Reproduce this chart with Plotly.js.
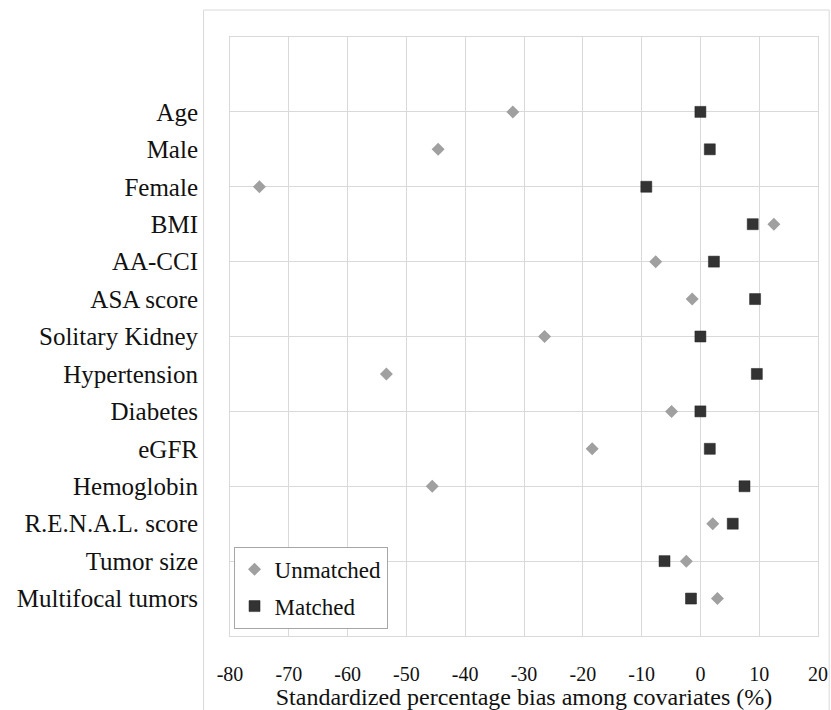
<!DOCTYPE html>
<html>
<head>
<meta charset="utf-8">
<script src="https://cdn.plot.ly/plotly-3.0.1.min.js"></script>
<style>html,body{margin:0;padding:0;background:#fff;}#chart{width:831px;height:710px;}</style>
</head>
<body>
<div id="chart"></div>
<script>
var categories = ["Age","Male","Female","BMI","AA-CCI","ASA score","Solitary Kidney","Hypertension","Diabetes","eGFR","Hemoglobin","R.E.N.A.L. score","Tumor size","Multifocal tumors"];
var unmatched = [-31.9, -44.6, -75.0, 12.5, -7.6, -1.4, -26.5, -53.4, -4.9, -18.4, -45.6, 2.1, -2.4, 2.9];
var matched = [0.0, 1.6, -9.2, 8.9, 2.3, 9.3, 0.0, 9.6, 0.0, 1.6, 7.5, 5.5, -6.1, -1.6];
var xTicks = [-80,-70,-60,-50,-40,-30,-20,-10,0,10,20];

var n = categories.length;
var yPos = categories.map(function(c,i){ return n - i; });

var font = "'Liberation Serif', 'DejaVu Serif', serif";

var traces = [
  {type:'scatter', mode:'markers', name:'Unmatched', x: unmatched, y: yPos, legendgroup:'a',
   marker:{symbol:'diamond', size:10, color:'#a0a0a0'}},
  {type:'scatter', mode:'markers', name:'Matched', x: matched, y: yPos, legendgroup:'b',
   marker:{symbol:'square', size:11, color:'#333333', line:{color:'#222', width:0.5}}}
];

var layout = {
  width:831, height:710,
  margin:{l:230, r:13, t:37, b:74},
  paper_bgcolor:'#fff', plot_bgcolor:'#fff',
  font:{family:font, color:'#111', size:20},
  showlegend:true,
  legend:{x:0.006, y:0.149, xanchor:'left', yanchor:'top', bgcolor:'#fff',
          bordercolor:'#a6a6a6', borderwidth:1, font:{size:23, family:font, color:'#111'},
          traceorder:'grouped', tracegroupgap:4, itemwidth:30},
  xaxis:{range:[-80,20], tickvals:xTicks, ticktext:xTicks.map(String), showgrid:true, gridcolor:'#d9d9d9',
         zeroline:false, showline:true, mirror:true, linecolor:'#d9d9d9', linewidth:1, ticks:'',
         tickfont:{size:20, family:font, color:'#111'}, ticklabelstandoff:20,
         title:{text:'Standardized percentage bias among covariates (%)', font:{size:24, family:font, color:'#111'}, standoff:4}},
  yaxis:{range:[0,16], tickvals:yPos, ticktext:categories, showgrid:false, zeroline:false,
         showline:true, mirror:true, linecolor:'#d9d9d9', linewidth:1, ticks:'',
         ticklabelstandoff:26, tickfont:{size:25, family:font, color:'#111'},
         minor:{tickmode:'linear', tick0:0, dtick:2, showgrid:true, gridcolor:'#d9d9d9', ticks:''}},
  shapes:[
    {type:'rect', xref:'paper', yref:'paper', x0:-0.045, x1:1.019, y0:-0.125, y1:1.045,
     line:{color:'#d9d9d9', width:1}, fillcolor:'rgba(0,0,0,0)', layer:'below'}
  ]
};

Plotly.newPlot('chart', traces, layout, {displayModeBar:false, staticPlot:true});
</script>
</body>
</html>
